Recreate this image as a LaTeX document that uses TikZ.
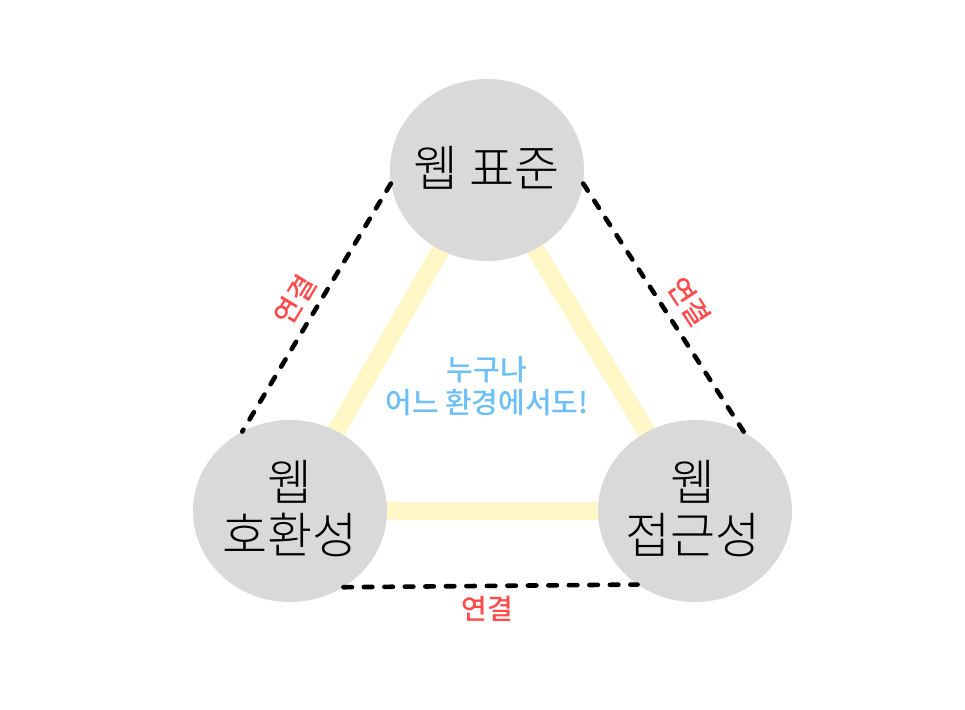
\documentclass[tikz,border=0pt]{standalone}
\usepackage{fontspec}
\newfontfamily\kr{Noto Sans CJK KR}
\IfFontExistsTF{Noto Sans CJK KR Light}{\newfontfamily\krlight{Noto Sans CJK KR Light}}{\newfontfamily\krlight{Noto Sans CJK KR}}
\IfFontExistsTF{Noto Sans CJK KR Medium}{\newfontfamily\krmed{Noto Sans CJK KR Medium}}{\newfontfamily\krmed{Noto Sans CJK KR}}
\usetikzlibrary{shapes.geometric}
\definecolor{circgray}{HTML}{D9D9D9}
\definecolor{softyellow}{HTML}{FFF8C6}
\definecolor{linkred}{HTML}{FF4B4B}
\definecolor{skyblue}{HTML}{6DBFF5}
\tikzset{
  topic/.style={ellipse, fill=circgray, minimum width=194pt, minimum height=182pt, inner sep=0pt},
  topictext/.style={align=center, inner sep=0pt, font=\krlight\fontsize{49}{56}\selectfont},
  bond/.style={softyellow, line width=18pt},
  link/.style={line width=4.6pt, dash pattern=on 8.5pt off 12pt, line cap=round},
  linklabel/.style={text=linkred, font=\krmed\fontsize{28}{32}\selectfont, inner sep=0pt},
}
\begin{document}
\begin{tikzpicture}[x=1pt,y=-1pt]
\useasboundingbox (0,0) rectangle (965,709);
\fill[white] (0,0) rectangle (965,709);
% centers
\coordinate (ct) at (487,170);
\coordinate (cl) at (290,511);
\coordinate (cr) at (695,511);
% yellow bonds behind
\draw[bond] (ct) -- (cl);
\draw[bond] (ct) -- (cr);
\draw[bond] (cl) -- (cr);
% circles
\node[topic] (std) at (ct) {};
\node[topic] (compat) at (cl) {};
\node[topic] (access) at (cr) {};
\node[topictext] (stdt) at (487,168) {웹 표준};
\node[topictext] (compatt) at (290,509) {웹\\[-3pt]호환성};
\node[topictext] (accesst) at (693,509) {웹\\[-3pt]접근성};
% dashed links
\draw[link] (std.188.5) -- (compat.121);
\draw[link] (std.-8.4) -- (access.58.7);
\draw[link] (compat.-55) -- (access.232);
% labels
\node[linklabel, rotate=59] (l1) at (295,300) {연결};
\node[linklabel, rotate=-57] (l2) at (689,302) {연결};
\node[linklabel] (l3) at (487,609) {연결};
\node[text=skyblue, align=center, font=\krmed\fontsize{29}{33}\selectfont, inner sep=0pt] (center) at (487,386) {누구나\\어느 환경에서도!};
\end{tikzpicture}
\end{document}
